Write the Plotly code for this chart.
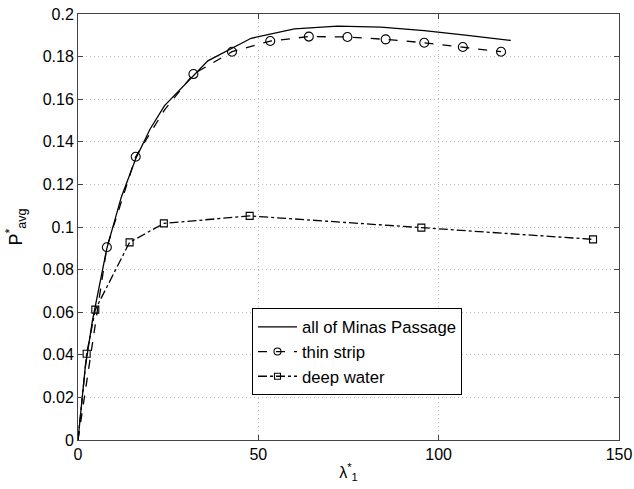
import plotly.graph_objects as go

# Data
all_x = [0, 2, 4, 8, 12, 16, 20, 24, 36, 48, 60, 72, 84, 96, 108, 120]
all_y = [0, 0.034, 0.056, 0.090, 0.114, 0.132, 0.146, 0.157, 0.178, 0.1886,
         0.193, 0.1943, 0.1938, 0.1922, 0.1900, 0.1876]

thin_x = [0, 8, 16, 24, 32, 42.7, 53.3, 64, 74.7, 85.3, 96, 106.7, 117.3]
thin_y = [0, 0.0905, 0.133, 0.155, 0.1718, 0.1823, 0.1873, 0.1894, 0.1892,
          0.1881, 0.1865, 0.1845, 0.1823]
thin_mx = [8, 16, 32, 42.7, 53.3, 64, 74.7, 85.3, 96, 106.7, 117.3]
thin_my = [0.0905, 0.133, 0.1718, 0.1823, 0.1873, 0.1894, 0.1892, 0.1881,
           0.1865, 0.1845, 0.1823]

deep_x = [0, 2.4, 4.8, 14.3, 23.8, 47.6, 95.2, 142.8]
deep_y = [0, 0.0405, 0.0612, 0.0928, 0.1017, 0.1052, 0.0997, 0.0942]
deep_mx = [2.4, 4.8, 14.3, 23.8, 47.6, 95.2, 142.8]
deep_my = [0.0405, 0.0612, 0.0928, 0.1017, 0.1052, 0.0997, 0.0942]

x_ticks = [0, 50, 100, 150]
x_labels = ["0", "50", "100", "150"]
y_ticks = [0, 0.02, 0.04, 0.06, 0.08, 0.1, 0.12, 0.14, 0.16, 0.18, 0.2]
y_labels = ["0", "0.02", "0.04", "0.06", "0.08", "0.1", "0.12", "0.14",
            "0.16", "0.18", "0.2"]

names = ["all of Minas Passage", "thin strip", "deep water"]

FONT = "Liberation Sans, Arial, Helvetica, sans-serif"
LW = 1.3

fig = go.Figure()

# thin strip
fig.add_trace(go.Scatter(x=thin_x, y=thin_y, mode="lines",
                         line=dict(color="black", width=LW, dash="dash"),
                         showlegend=False, hoverinfo="skip"))
fig.add_trace(go.Scatter(x=thin_mx, y=thin_my, mode="markers",
                         marker=dict(symbol="circle-open", size=9,
                                     color="black", line=dict(width=1.1)),
                         showlegend=False))
# deep water
fig.add_trace(go.Scatter(x=deep_x, y=deep_y, mode="lines",
                         line=dict(color="black", width=LW, dash="dashdot"),
                         showlegend=False, hoverinfo="skip"))
fig.add_trace(go.Scatter(x=deep_mx, y=deep_my, mode="markers",
                         marker=dict(symbol="square-open", size=7,
                                     color="black", line=dict(width=1.1)),
                         showlegend=False))
# all of Minas Passage (on top)
fig.add_trace(go.Scatter(x=all_x, y=all_y, mode="lines",
                         line=dict(color="black", width=LW),
                         name=names[0], legendrank=1))

# legend entries
fig.add_trace(go.Scatter(x=[None], y=[None], mode="lines+markers",
                         line=dict(color="black", width=LW, dash="dash"),
                         marker=dict(symbol="circle-open", size=7,
                                     color="black", line=dict(width=1.1)),
                         name=names[1], legendrank=2))
fig.add_trace(go.Scatter(x=[None], y=[None], mode="lines+markers",
                         line=dict(color="black", width=LW, dash="dashdot"),
                         marker=dict(symbol="square-open", size=6,
                                     color="black", line=dict(width=1.1)),
                         name=names[2], legendrank=3))

axis_common = dict(
    showline=True, linecolor="#444444", linewidth=1, mirror="ticks",
    ticks="inside", ticklen=5, tickcolor="#444444",
    showgrid=True, gridcolor="#bdbdbd", griddash="1px,3px", gridwidth=1,
    zeroline=False, tickfont=dict(family=FONT, size=16, color="black"),
    automargin=False, ticklabeloverflow="allow",
)

fig.update_xaxes(range=[0, 150], tickvals=x_ticks, ticktext=x_labels,
                 title=dict(text="λ<sup>*</sup><sub>1</sub>",
                            font=dict(family=FONT, size=16, color="black"),
                            standoff=4),
                 **axis_common)
fig.update_yaxes(range=[0, 0.2], tickvals=y_ticks, ticktext=y_labels,
                 title=dict(text="P<sup>*</sup><sub>avg</sub>",
                            font=dict(family=FONT, size=18, color="black"),
                            standoff=15),
                 **axis_common)

fig.update_layout(
    width=634, height=489,
    margin=dict(l=78, r=15, t=14, b=49),
    plot_bgcolor="white", paper_bgcolor="white",
    font=dict(family=FONT, size=16, color="black"),
    legend=dict(x=0.3216, y=0.3087, xanchor="left", yanchor="top",
                bgcolor="white", bordercolor="black", borderwidth=1,
                font=dict(family=FONT, size=16.7, color="black"),
                itemwidth=39, tracegroupgap=0),
    showlegend=True,
)

# remove the default page margin so the figure fills the window exactly
fig.write_html("out.html",
               config={"displayModeBar": False},
               post_script="document.body.style.margin='0';"
                           "document.body.style.overflow='hidden';")
